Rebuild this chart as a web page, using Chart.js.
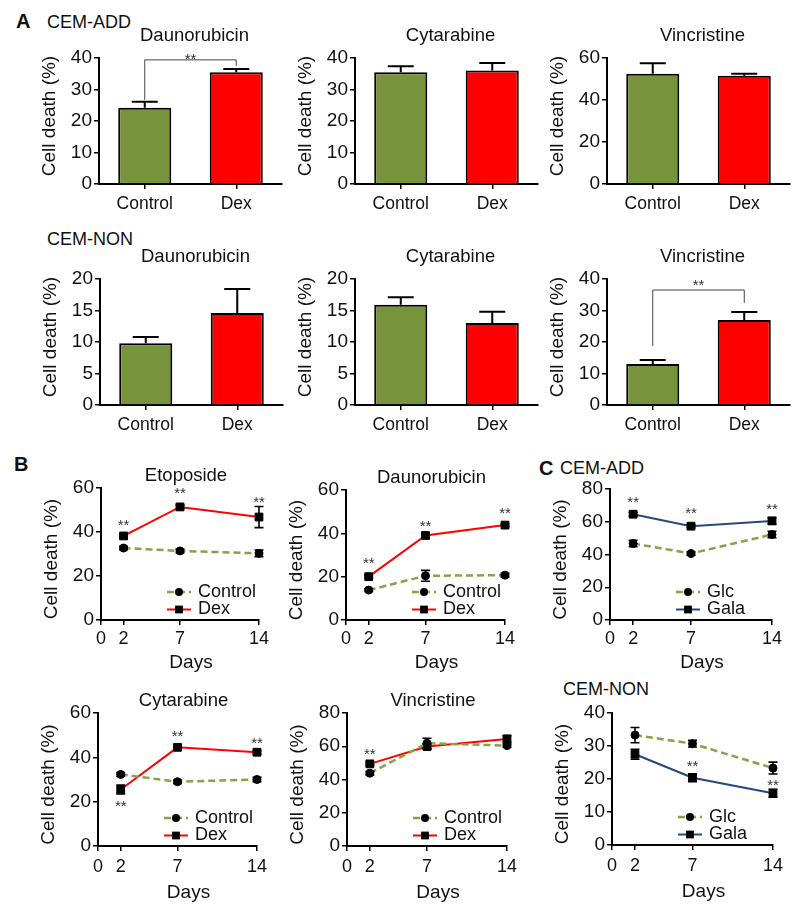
<!DOCTYPE html>
<html>
<head>
<meta charset="utf-8">
<script src="https://cdn.jsdelivr.net/npm/chart.js@4.4.1/dist/chart.umd.min.js"></script>
<style>
  body { margin:0; background:#fff; width:800px; height:912px; position:relative; overflow:hidden;
         font-family:"Liberation Sans", Arial, sans-serif; color:#111; }
  canvas { position:absolute; }
  .lbl { position:absolute; font-size:18px; line-height:18px; white-space:nowrap; }
  .big { font-weight:bold; font-size:20px; line-height:20px; }
</style>
</head>
<body>
<div class="lbl big" style="left:16px;top:11px">A</div>
<div class="lbl" style="left:47px;top:13px">CEM-ADD</div>
<div class="lbl" style="left:47px;top:230px">CEM-NON</div>
<div class="lbl big" style="left:14px;top:454px">B</div>
<div class="lbl big" style="left:539px;top:458px">C</div>
<div class="lbl" style="left:560px;top:459px">CEM-ADD</div>
<div class="lbl" style="left:563px;top:680px">CEM-NON</div>

<script>
const FONT = "'Liberation Sans', Arial, sans-serif";
const INK = "#111";
const GREEN = "#77933C", RED = "#FF0000", NAVY = "#25487F", LGREEN = "#86A349";

// ---- data ----
const GROUPS = ["Control", "Dex"];
const DAYS = [2, 7, 14];
const DAY_TICKS = [0, 2, 7, 14];

// A: CEM-ADD bars (mean, sem)
const addDauno = [24.2, 35.5], addDaunoErr = [1.9, 1.0];
const addCyta = [35.5, 36.0], addCytaErr = [1.9, 2.4];
const addVinc = [52.5, 51.5], addVincErr = [5.0, 1.0];
// A: CEM-NON bars
const nonDauno = [9.8, 14.6], nonDaunoErr = [1.0, 3.8];
const nonCyta = [15.9, 13.0], nonCytaErr = [1.2, 1.8];
const nonVinc = [13.0, 27.0], nonVincErr = [1.3, 2.5];
// significance brackets [left foot, top, right foot] and star positions
const addDaunoBracket = [26.7, 39.4, 37.5], addDaunoStars = [[0.5, 40.6]];
const nonVincBracket = [18.7, 36.5, 32.4], nonVincStars = [[0.5, 38.9]];

// B: time courses, Control vs Dex
const etoCtrl = [32.7, 31.4, 30.3], etoCtrlErr = [0.8, 0.8, 1.5];
const etoDex = [38.2, 51.4, 46.8], etoDexErr = [0.8, 0.8, 4.8];
const etoStars = [[2, 44.5], [7, 59], [14, 55]];

const daunoCtrl = [13.8, 20.4, 20.7], daunoCtrlErr = [0.6, 2.5, 0.8];
const daunoDex = [20.0, 39.0, 43.8], daunoDexErr = [0.6, 1.2, 0.6];
const daunoStars = [[2, 27.5], [7, 44.9], [14, 50.8]];

const cytaCtrl = [32.3, 29.0, 30.0], cytaCtrlErr = [0.8, 0.8, 1.0];
const cytaDex = [25.5, 44.5, 42.3], cytaDexErr = [2.0, 1.0, 0.8];
const cytaStars = [[2, 19.4], [7, 51], [14, 47.8]];

const vincCtrl = [43.8, 61.8, 60.4], vincCtrlErr = [1.0, 3.0, 1.0];
const vincDex = [49.4, 59.8, 64.4], vincDexErr = [0.8, 1.5, 2.0];
const vincStars = [[2, 57.1]];

// C: Glc vs Gala
const addGlc = [46.7, 40.6, 52.2], addGlcErr = [2.0, 1.0, 2.0];
const addGala = [64.6, 57.3, 60.5], addGalaErr = [1.2, 1.0, 2.0];
const addStars = [[2, 73.9], [7, 67.2], [14, 69.6]];

const nonGlc = [33.3, 30.7, 23.3], nonGlcErr = [2.3, 1.0, 1.8];
const nonGala = [27.5, 20.4, 15.7], nonGalaErr = [1.5, 1.2, 1.2];
const nonStars = [[7, 24.7], [14, 19.2]];

// ---- helpers ----
Chart.defaults.font.family = FONT;
Chart.defaults.color = INK;

const fx = (s, w = "normal") => `${w} ${s}px ${FONT}`;

function marker(ctx, style, r, x, y) {
  ctx.fillStyle = "#000";
  ctx.beginPath();
  if (style === "rect") { const h = r * Math.SQRT1_2; ctx.rect(x - h, y - h, 2 * h, 2 * h); }
  else ctx.arc(x, y, r, 0, Math.PI * 2);
  ctx.fill();
}

const extras = {
  id: "extras",
  afterDatasetsDraw(chart, args, o) {
    const { ctx, chartArea: a } = chart;
    const x = chart.scales.x, y = chart.scales.y;
    ctx.save();
    ctx.strokeStyle = "#000";

    // error bars
    (o.errors || []).forEach((errs, i) => {
      const ds = chart.data.datasets[i];
      chart.getDatasetMeta(i).data.forEach((el, j) => {
        const e = errs[j];
        if (!e) return;
        const v = o.bar ? ds.data[j] : ds.data[j].y;
        const top = y.getPixelForValue(v + e);
        const bot = o.bar ? el.y : y.getPixelForValue(v - e);
        const cap = o.bar ? 13 : 4.5;
        ctx.lineWidth = o.bar ? 2 : 1.6;
        ctx.beginPath();
        ctx.moveTo(el.x, bot); ctx.lineTo(el.x, top);
        ctx.moveTo(el.x - cap, top); ctx.lineTo(el.x + cap, top);
        if (!o.bar) { ctx.moveTo(el.x - cap, bot); ctx.lineTo(el.x + cap, bot); }
        ctx.stroke();
      });
    });

    // bracket
    if (o.bracket) {
      const [lb, tp, rb] = o.bracket;
      const x0 = x.getPixelForValue(0), x1 = x.getPixelForValue(1);
      ctx.lineWidth = 1;
      ctx.strokeStyle = "#444";
      ctx.beginPath();
      ctx.moveTo(x0, y.getPixelForValue(lb));
      ctx.lineTo(x0, y.getPixelForValue(tp));
      ctx.lineTo(x1, y.getPixelForValue(tp));
      ctx.lineTo(x1, y.getPixelForValue(rb));
      ctx.stroke();
    }

    // stars
    ctx.font = fx(15);
    ctx.textAlign = "center";
    ctx.textBaseline = "alphabetic";
    ctx.fillStyle = "#333";
    (o.stars || []).forEach(([sx, sv]) => ctx.fillText("**", x.getPixelForValue(sx), y.getPixelForValue(sv) + 8));

    // title
    ctx.fillStyle = INK;
    ctx.textBaseline = "middle";
    ctx.font = fx(18.5);
    ctx.fillText(o.title, (a.left + a.right) / 2 + o.titleDx, a.top + o.titleDy);

    // y title
    ctx.save();
    ctx.translate(a.left - 49, (a.top + a.bottom) / 2 + o.yTitleDy);
    ctx.rotate(-Math.PI / 2);
    ctx.font = fx(19);
    ctx.fillText("Cell death (%)", 0, 0);
    ctx.restore();

    // x title
    if (o.xTitle) {
      ctx.font = fx(19);
      ctx.fillText(o.xTitle, (a.left + a.right) / 2 + 11, a.bottom + o.xTitleDy);
    }

    // legend inside the plot, lower right
    if (o.legend) {
      chart.data.datasets.forEach((ds, i) => {
        const lx = a.left + 66, ly = a.bottom - 28 + i * 17.5;
        ctx.strokeStyle = ds.borderColor;
        ctx.lineWidth = ds.borderWidth;
        ctx.setLineDash(ds.borderDash || []);
        ctx.beginPath(); ctx.moveTo(lx, ly); ctx.lineTo(lx + 24, ly); ctx.stroke();
        ctx.setLineDash([]);
        marker(ctx, ds.pointStyle, ds.pointRadius, lx + 12, ly);
        ctx.fillStyle = INK;
        ctx.font = fx(18);
        ctx.textAlign = "left";
        ctx.fillText(ds.label, lx + 31, ly);
      });
    }
    ctx.restore();
  }
};

function makeCanvas(p, pad) {
  const c = document.createElement("canvas");
  c.width = p.r - p.l + pad.yw + pad.right;
  c.height = p.b - p.t + pad.top + pad.bottom;
  c.style.left = (p.l - pad.yw) + "px";
  c.style.top = (p.t - pad.top) + "px";
  document.body.appendChild(c);
  return c;
}

function yAxis(max, step, yw) {
  return {
    min: 0, max,
    ticks: { stepSize: step, color: INK, font: { size: 19 }, padding: 2 },
    grid: { drawOnChartArea: false, tickLength: 5, color: "#000", lineWidth: 1.5 },
    border: { color: "#000", width: 2 },
    afterFit: s => { s.width = yw; }
  };
}

function barChart(p, title, values, errs, yMax, yStep, extra = {}) {
  const pad = { yw: 62, top: 50, right: 10, bottom: 40 };
  const c = makeCanvas(p, pad);
  return new Chart(c, {
    type: "bar",
    data: {
      labels: GROUPS,
      datasets: [{
        data: values,
        backgroundColor: [GREEN, RED],
        borderColor: "#000",
        borderWidth: 2,
        borderSkipped: "bottom",
        barPercentage: 0.58,
        categoryPercentage: 1
      }]
    },
    options: {
      responsive: false,
      animation: false,
      layout: { padding: { left: 0, top: pad.top, right: pad.right, bottom: 0 } },
      plugins: {
        legend: { display: false },
        tooltip: { enabled: false },
        extras: { bar: true, title, titleDx: 4, titleDy: -22, yTitleDy: -5, errors: [errs], ...extra }
      },
      scales: {
        x: {
          ticks: { color: INK, font: { size: 17.5 }, padding: 5 },
          grid: { offset: false, drawOnChartArea: false, tickLength: 5, color: "#000", lineWidth: 1.5 },
          border: { color: "#000", width: 2 },
          afterFit: s => { s.height = pad.bottom; }
        },
        y: yAxis(yMax, yStep, pad.yw)
      }
    },
    plugins: [extras]
  });
}

function series(label, vals, color, kind) {
  const dashed = kind === "ctrl";
  return {
    label,
    data: DAYS.map((d, i) => ({ x: d, y: vals[i] })),
    borderColor: color,
    borderWidth: dashed ? 2.5 : 2,
    borderDash: dashed ? [7, 4] : [],
    pointStyle: dashed ? "circle" : "rect",
    pointRadius: dashed ? 4 : 5.5,
    pointBackgroundColor: "#000",
    pointBorderColor: "#000",
    pointBorderWidth: 1,
    tension: 0,
    clip: false
  };
}

function lineChart(p, title, datasets, errors, stars, yMax, yStep, low = false) {
  const pad = { yw: 62, top: 50, right: 22, bottom: 64 };
  const c = makeCanvas(p, pad);
  return new Chart(c, {
    type: "line",
    data: { datasets },
    options: {
      responsive: false,
      animation: false,
      layout: { padding: { left: 0, top: pad.top, right: pad.right, bottom: 0 } },
      plugins: {
        legend: { display: false },
        tooltip: { enabled: false },
        extras: { bar: false, title, titleDx: 6, titleDy: -12.5, yTitleDy: 5, xTitle: "Days",
                  xTitleDy: low ? 47 : 43, errors, stars, legend: true }
      },
      scales: {
        x: {
          type: "linear", min: 0, max: 14,
          afterBuildTicks: s => { s.ticks = DAY_TICKS.map(v => ({ value: v })); },
          ticks: { color: INK, font: { size: 18 }, padding: low ? 5 : 3, callback: v => v },
          grid: { drawOnChartArea: false, tickLength: 5, color: "#000", lineWidth: 1.5 },
          border: { color: "#000", width: 2 },
          afterFit: s => { s.height = pad.bottom; }
        },
        y: yAxis(yMax, yStep, pad.yw)
      }
    },
    plugins: [extras]
  });
}

// ---- A ----
barChart({ l: 99, t: 58, r: 282, b: 184 }, "Daunorubicin", addDauno, addDaunoErr, 40, 10,
  { bracket: addDaunoBracket, stars: addDaunoStars });
barChart({ l: 355, t: 58, r: 538, b: 184 }, "Cytarabine", addCyta, addCytaErr, 40, 10);
barChart({ l: 607, t: 58, r: 790, b: 184 }, "Vincristine", addVinc, addVincErr, 60, 20);
barChart({ l: 100, t: 279, r: 283, b: 405 }, "Daunorubicin", nonDauno, nonDaunoErr, 20, 5);
barChart({ l: 355, t: 279, r: 538, b: 405 }, "Cytarabine", nonCyta, nonCytaErr, 20, 5);
barChart({ l: 607, t: 279, r: 790, b: 405 }, "Vincristine", nonVinc, nonVincErr, 40, 10,
  { bracket: nonVincBracket, stars: nonVincStars });

// ---- B ----
lineChart({ l: 101, t: 488, r: 259, b: 620 }, "Etoposide",
  [series("Control", etoCtrl, LGREEN, "ctrl"), series("Dex", etoDex, RED, "dex")],
  [etoCtrlErr, etoDexErr], etoStars, 60, 20);
lineChart({ l: 346, t: 490, r: 505, b: 620 }, "Daunorubicin",
  [series("Control", daunoCtrl, LGREEN, "ctrl"), series("Dex", daunoDex, RED, "dex")],
  [daunoCtrlErr, daunoDexErr], daunoStars, 60, 20);
lineChart({ l: 98, t: 713, r: 257, b: 846 }, "Cytarabine",
  [series("Control", cytaCtrl, LGREEN, "ctrl"), series("Dex", cytaDex, RED, "dex")],
  [cytaCtrlErr, cytaDexErr], cytaStars, 60, 20, true);
lineChart({ l: 347, t: 713, r: 507, b: 846 }, "Vincristine",
  [series("Control", vincCtrl, LGREEN, "ctrl"), series("Dex", vincDex, RED, "dex")],
  [vincCtrlErr, vincDexErr], vincStars, 80, 20, true);

// ---- C ----
lineChart({ l: 610, t: 489, r: 772, b: 620 }, "",
  [series("Glc", addGlc, LGREEN, "ctrl"), series("Gala", addGala, NAVY, "gala")],
  [addGlcErr, addGalaErr], addStars, 80, 20);
lineChart({ l: 612, t: 713, r: 773, b: 845 }, "",
  [series("Glc", nonGlc, LGREEN, "ctrl"), series("Gala", nonGala, NAVY, "gala")],
  [nonGlcErr, nonGalaErr], nonStars, 40, 10, true);
</script>
</body>
</html>
